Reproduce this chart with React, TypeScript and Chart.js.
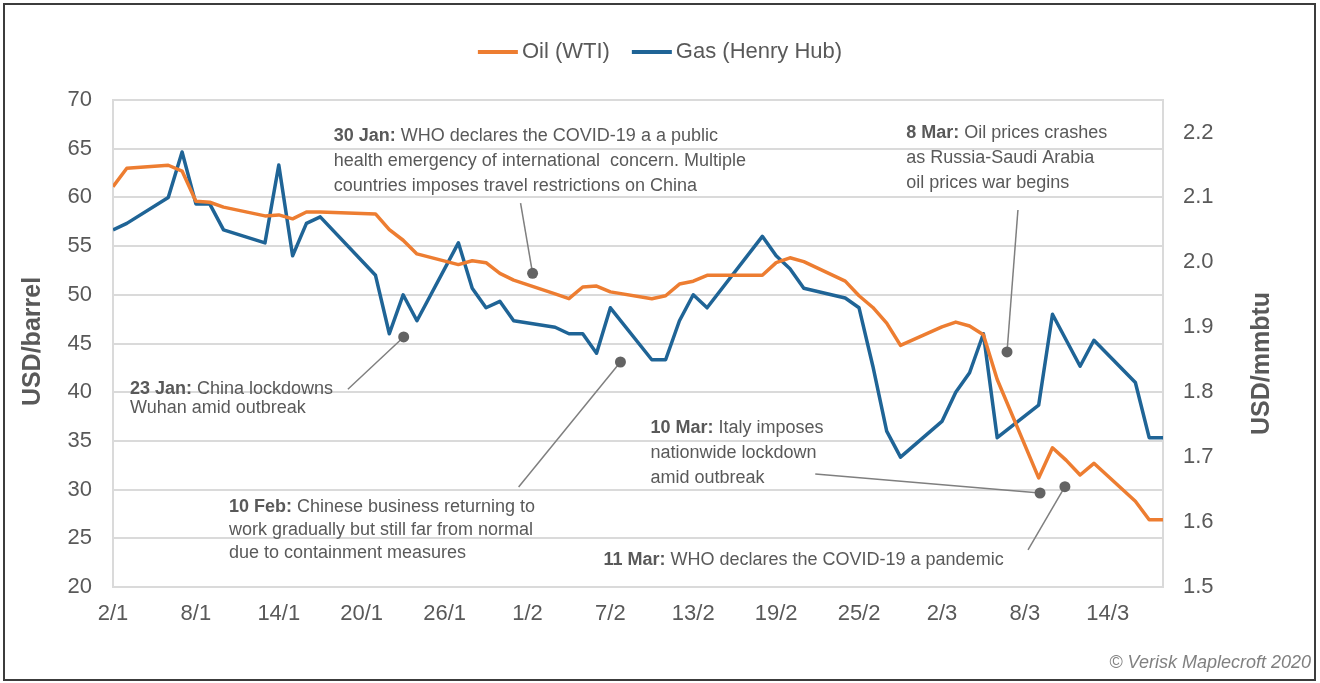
import React, { useEffect, useRef } from "react";
import { Chart, registerables } from "chart.js";

Chart.register(...registerables);

// ---- Data (day/month, 2020) ----
const tradingDates = [
  "2/1", "3/1", "6/1", "7/1", "8/1", "9/1", "10/1", "13/1", "14/1", "15/1", "16/1", "17/1",
  "21/1", "22/1", "23/1", "24/1", "27/1", "28/1", "29/1", "30/1", "31/1",
  "3/2", "4/2", "5/2", "6/2", "7/2", "10/2", "11/2", "12/2", "13/2", "14/2",
  "18/2", "19/2", "20/2", "21/2", "24/2", "25/2", "26/2", "27/2", "28/2",
  "2/3", "3/3", "4/3", "5/3", "6/3", "9/3", "10/3", "11/3", "12/3", "13/3",
  "16/3", "17/3", "18/3",
];

const oilWTI = [
  61.1, 63.0, 63.3, 62.7, 59.6, 59.5, 59.0, 58.1, 58.2, 57.8, 58.5, 58.5,
  58.3, 56.7, 55.6, 54.2, 53.1, 53.5, 53.3, 52.2, 51.5,
  50.1, 49.6, 50.8, 50.9, 50.3, 49.6, 49.9, 51.1, 51.4, 52.0,
  52.0, 53.3, 53.8, 53.4, 51.4, 49.9, 48.7, 47.1, 44.8,
  46.7, 47.2, 46.8, 45.9, 41.3, 31.2, 34.3, 33.0, 31.5, 32.7,
  28.8, 26.9, 26.9,
];

const gasHenryHub = [
  2.05, 2.06, 2.10, 2.17, 2.09, 2.09, 2.05, 2.03, 2.15, 2.01, 2.06, 2.07,
  1.98, 1.89, 1.95, 1.91, 2.03, 1.96, 1.93, 1.94, 1.91,
  1.90, 1.89, 1.89, 1.86, 1.93, 1.85, 1.85, 1.91, 1.95, 1.93,
  2.04, 2.01, 1.99, 1.96, 1.945, 1.93, 1.84, 1.74, 1.70,
  1.755, 1.80, 1.83, 1.89, 1.73, 1.78, 1.92, 1.88, 1.84, 1.88,
  1.815, 1.73, 1.73,
];

const xTickLabels = ["2/1", "8/1", "14/1", "20/1", "26/1", "1/2", "7/2", "13/2", "19/2", "25/2", "2/3", "8/3", "14/3"];
const leftTicks = [20, 25, 30, 35, 40, 45, 50, 55, 60, 65, 70];
const rightTicks = [1.5, 1.6, 1.7, 1.8, 1.9, 2.0, 2.1, 2.2];

// Annotations: anchors expressed in (day index, USD/barrel) data coordinates
const annotations = [
  {
    bold: "30 Jan:",
    lines: [" WHO declares the COVID-19 a a public", "health emergency of international  concern. Multiple", "countries imposes travel restrictions on China"],
    text: [15.98, 66.3], gap: 25, from: [29.5, 59.4], dot: [30.37, 52.2],
  },
  {
    bold: "23 Jan:",
    lines: [" China lockdowns", "Wuhan amid outbreak"],
    text: [1.23, 40.3], gap: 19, from: [17.0, 40.3], dot: [21.04, 45.67],
  },
  {
    bold: "10 Feb:",
    lines: [" Chinese business returning to", "work gradually but still far from normal", "due to containment measures"],
    text: [8.39, 28.2], gap: 23, from: [29.36, 30.27], dot: [36.73, 43.1],
  },
  {
    bold: "8 Mar:",
    lines: [" Oil prices crashes", "as Russia-Saudi Arabia", "oil prices war begins"],
    text: [57.41, 66.6], gap: 25, from: [65.5, 58.7], dot: [64.71, 44.13],
  },
  {
    bold: "10 Mar:",
    lines: [" Italy imposes", "nationwide lockdown", "amid outbreak"],
    text: [38.9, 36.3], gap: 25, from: [50.83, 31.6], dot: [67.1, 29.65],
  },
  {
    bold: "11 Mar:",
    lines: [" WHO declares the COVID-19 a pandemic"],
    text: [35.5, 22.8], gap: 25, from: [66.23, 23.8], dot: [68.9, 30.3],
  },
];

const OIL_COLOR = "#ED7D31";
const GAS_COLOR = "#1F6496";
const TEXT_COLOR = "#595959";
const GRID_COLOR = "#DADADA";
const FONT = '"Liberation Sans", Arial, sans-serif';

function dayIndex(dm: string): number {
  const [d, m] = dm.split("/").map(Number);
  return Math.round((Date.UTC(2020, m - 1, d) - Date.UTC(2020, 0, 2)) / 86400000);
}

const overlayPlugin = {
  id: "overlay",
  afterDatasetsDraw(chart: any) {
    const ctx: CanvasRenderingContext2D = chart.ctx;
    const xs = chart.scales.x;
    const ys = chart.scales.y;
    const ca = chart.chartArea;
    const px = (v: number) => xs.getPixelForValue(v);
    const py = (v: number) => ys.getPixelForValue(v);

    ctx.save();
    // annotations
    for (const a of annotations) {
      const fx = px(a.from[0]), fy = py(a.from[1]);
      const dx = px(a.dot[0]), dy = py(a.dot[1]);
      ctx.strokeStyle = "#7F7F7F";
      ctx.lineWidth = 1.5;
      ctx.beginPath();
      ctx.moveTo(fx, fy);
      ctx.lineTo(dx, dy);
      ctx.stroke();
      ctx.fillStyle = "#636363";
      ctx.beginPath();
      ctx.arc(dx, dy, 5.5, 0, Math.PI * 2);
      ctx.fill();

      const tx = px(a.text[0]);
      let ty = py(a.text[1]);
      ctx.fillStyle = TEXT_COLOR;
      ctx.textBaseline = "middle";
      ctx.textAlign = "left";
      a.lines.forEach((line, i) => {
        let x = tx;
        if (i === 0) {
          ctx.font = `bold 18px ${FONT}`;
          ctx.fillText(a.bold, x, ty);
          x += ctx.measureText(a.bold).width;
        }
        ctx.font = `18px ${FONT}`;
        ctx.fillText(line, x, ty);
        ty += a.gap;
      });
    }

    // legend
    ctx.font = `22px ${FONT}`;
    ctx.textBaseline = "middle";
    const items = chart.data.datasets.map((d: any) => ({ label: d.label, color: d.borderColor }));
    const lineLen = 40, lineGap = 4, itemGap = 22;
    const widths = items.map((it: any) => lineLen + lineGap + ctx.measureText(it.label).width);
    const total = widths.reduce((s: number, w: number) => s + w, 0) + itemGap * (items.length - 1);
    let lx = chart.width / 2 - total / 2;
    const ly = 52;
    items.forEach((it: any, i: number) => {
      ctx.strokeStyle = it.color;
      ctx.lineWidth = 4;
      ctx.beginPath();
      ctx.moveTo(lx, ly);
      ctx.lineTo(lx + lineLen, ly);
      ctx.stroke();
      ctx.fillStyle = TEXT_COLOR;
      ctx.fillText(it.label, lx + lineLen + lineGap, ly);
      lx += widths[i] + itemGap;
    });

    // axis titles (both read bottom-to-top)
    ctx.font = `bold 25px ${FONT}`;
    ctx.fillStyle = TEXT_COLOR;
    ctx.textAlign = "center";
    ctx.save();
    ctx.translate(ca.left - 80, (ca.top + ca.bottom) / 2 - 2);
    ctx.rotate(-Math.PI / 2);
    ctx.fillText("USD/barrel", 0, 0);
    ctx.restore();
    ctx.save();
    ctx.translate(ca.right + 99, (ca.top + ca.bottom) / 2 + 20);
    ctx.rotate(-Math.PI / 2);
    ctx.fillText("USD/mmbtu", 0, 0);
    ctx.restore();

    // credit
    ctx.font = `italic 18px ${FONT}`;
    ctx.fillStyle = "#808080";
    ctx.textAlign = "right";
    ctx.fillText("\u00A9 Verisk Maplecroft 2020", chart.width - 9, chart.height - 20);
    ctx.restore();
  },
};

export default function App() {
  const canvasRef = useRef<HTMLCanvasElement | null>(null);

  useEffect(() => {
    if (!canvasRef.current) return;
    const xs = tradingDates.map(dayIndex);
    const lastDay = xs[xs.length - 1];
    const tickFont = { size: 22, family: FONT };

    const chart = new Chart(canvasRef.current, {
      type: "line",
      data: {
        datasets: [
          {
            label: "Oil (WTI)",
            data: oilWTI.map((v, i) => ({ x: xs[i], y: v })),
            borderColor: OIL_COLOR,
            backgroundColor: OIL_COLOR,
            borderWidth: 3.5,
            pointRadius: 0,
            tension: 0,
            borderJoinStyle: "round",
            yAxisID: "y",
          },
          {
            label: "Gas (Henry Hub)",
            data: gasHenryHub.map((v, i) => ({ x: xs[i], y: v })),
            borderColor: GAS_COLOR,
            backgroundColor: GAS_COLOR,
            borderWidth: 3.5,
            pointRadius: 0,
            tension: 0,
            borderJoinStyle: "round",
            yAxisID: "y1",
          },
        ],
      },
      options: {
        responsive: false,
        maintainAspectRatio: false,
        animation: false,
        layout: { padding: { top: 100, left: 0, right: 0, bottom: 0 } },
        plugins: {
          legend: { display: false },
          tooltip: { enabled: false },
        },
        scales: {
          x: {
            type: "linear",
            min: 0,
            max: lastDay,
            afterBuildTicks: (s: any) => {
              s.ticks = xTickLabels.map((l) => ({ value: dayIndex(l) }));
            },
            ticks: {
              autoSkip: false,
              maxRotation: 0,
              padding: 14,
              color: TEXT_COLOR,
              font: tickFont,
              callback: (v: any) => {
                const lbl = xTickLabels.find((l) => dayIndex(l) === v);
                return lbl ?? "";
              },
            },
            grid: { display: false, drawTicks: false },
            border: { display: true, color: GRID_COLOR, width: 2 },
            afterFit: (s: any) => {
              s.height = 96;
            },
          },
          y: {
            position: "left",
            min: 20,
            max: 70,
            afterBuildTicks: (s: any) => {
              s.ticks = leftTicks.map((v) => ({ value: v }));
            },
            ticks: { padding: 21, color: TEXT_COLOR, font: tickFont },
            grid: { color: GRID_COLOR, lineWidth: 2, drawTicks: false },
            border: { display: true, color: GRID_COLOR, width: 2 },
            afterFit: (s: any) => {
              s.width = 113;
            },
          },
          y1: {
            position: "right",
            min: 1.5,
            max: 2.25,
            afterBuildTicks: (s: any) => {
              s.ticks = rightTicks.map((v) => ({ value: v }));
            },
            ticks: {
              padding: 20,
              color: TEXT_COLOR,
              font: tickFont,
              callback: (v: any) => Number(v).toFixed(1),
            },
            grid: { display: false, drawTicks: false },
            border: { display: true, color: GRID_COLOR, width: 2 },
            afterFit: (s: any) => {
              s.width = 157;
            },
          },
        },
      },
      plugins: [overlayPlugin],
    } as any);

    return () => chart.destroy();
  }, []);

  return (
    <div style={{ position: "fixed", left: 0, top: 0, width: 1320, height: 683, background: "#fff" }}>
      <canvas ref={canvasRef} width={1320} height={683} style={{ position: "absolute", left: 0, top: 0, width: 1320, height: 683 }} />
      <div
        style={{
          position: "absolute",
          left: 3,
          top: 3,
          width: 1313,
          height: 678,
          boxSizing: "border-box",
          border: "2px solid #3C3C3C",
          pointerEvents: "none",
        }}
      />
    </div>
  );
}
